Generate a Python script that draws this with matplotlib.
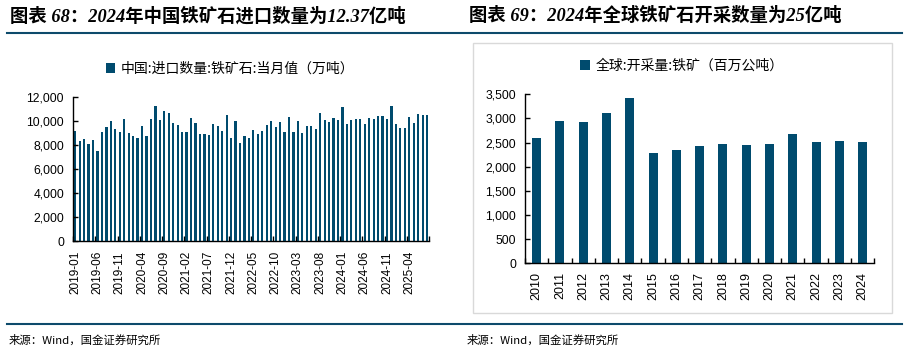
import numpy as np
import pandas as pd
import matplotlib
matplotlib.use("Agg")
import matplotlib.pyplot as plt
from matplotlib.patches import Rectangle
from matplotlib.lines import Line2D
from matplotlib.ticker import FuncFormatter

CJK = ["Noto Sans CJK SC", "DejaVu Sans"]
TITLE_FONT = ["Liberation Serif", "Noto Sans CJK SC"]
NUM = "Liberation Sans"
BAR_COLOR = "#004b6e"
LINE_COLOR = "#0d4a6b"

# 左图: 中国铁矿石进口数量, 当月值 (万吨), 2019-01 ~ 2025-08
months = pd.date_range("2019-01", periods=80, freq="MS").strftime("%Y-%m").tolist()
china_imports = [
    9190, 8360, 8530, 8110, 8440, 7530, 9110, 9530, 10030, 9360,
    9110, 10190, 9030, 8780, 8610, 9610, 8780, 10190, 11280, 10110,
    10860, 10690, 9860, 9690, 9110, 9110, 10280, 9860, 8940, 8940,
    8860, 9780, 9610, 9190, 10530, 8610, 10030, 8190, 8780, 8610,
    9280, 8940, 9190, 9690, 10030, 9530, 9940, 9110, 10360, 9110,
    10030, 9030, 9610, 9610, 9360, 10690, 10110, 9940, 10280, 10110,
    11190, 9780, 10110, 10190, 10190, 9780, 10280, 10190, 10440, 10440,
    10190, 11280, 9780, 9440, 9440, 10360, 9860, 10610, 10530, 10530,
]

# 右图: 全球铁矿开采量 (百万公吨)
years = [str(y) for y in range(2010, 2025)]
world_output = [2590, 2950, 2925, 3110, 3420, 2280, 2345, 2430, 2470, 2450,
                2470, 2675, 2510, 2530, 2510]

fig = plt.figure(figsize=(9.08, 3.54), dpi=100)

# 标题、分隔线、来源
fig.text(0.011, 0.955, "图表 68：2024年中国铁矿石进口数量为12.37亿吨", family=TITLE_FONT,
         fontsize=13.2, fontweight="bold", style="italic", va="center", ha="left")
fig.text(0.516, 0.955, "图表 69：2024年全球铁矿石开采数量为25亿吨", family=TITLE_FONT,
         fontsize=13.2, fontweight="bold", style="italic", va="center", ha="left")
for yy in (1 - 33.3 / 354, 1 - 324 / 354):
    fig.add_artist(Line2D([7 / 908, 902 / 908], [yy, yy], color=LINE_COLOR, lw=1.5))
fig.text(0.010, 0.040, "来源：Wind，国金证券研究所", family=CJK, fontsize=8.2, va="center")
fig.text(0.514, 0.040, "来源：Wind，国金证券研究所", family=CJK, fontsize=8.2, va="center")

# 右图外框
fig.add_artist(Rectangle((473.3 / 908, 1 - 313.3 / 354), 419 / 908, 270 / 354,
                         transform=fig.transFigure, fill=False, ec="#d9d9d9", lw=1))

thousands = FuncFormatter(lambda v, p: f"{v:,.0f}")


def style_axis(ax, n, step, label_size, pad):
    for s in ("top", "right"):
        ax.spines[s].set_visible(False)
    for s in ("left", "bottom"):
        ax.spines[s].set_linewidth(1.0)
    ax.set_xlim(-0.5, n - 0.5)
    ax.set_xticks(np.arange(0, n, step))
    ax.set_xticks(np.arange(-0.5, n, step), minor=True)
    ax.tick_params(axis="x", which="major", length=0, pad=pad, labelsize=label_size,
                   labelrotation=90)
    ax.tick_params(axis="x", which="minor", length=3.5, width=1, direction="in")
    ax.tick_params(axis="y", length=3.8, width=1, direction="in", pad=6.5, labelsize=8.7)
    ax.yaxis.set_major_formatter(thousands)
    for lab in ax.get_yticklabels():
        lab.set_fontfamily(NUM)


# 左图
ax1 = fig.add_axes([0.0804, 0.3184, 0.3924, 0.4068])
x1 = np.arange(len(months))
b1 = ax1.bar(x1, china_imports, width=0.5, color=BAR_COLOR)
ax1.set_ylim(0, 12000)
ax1.set_yticks(np.arange(0, 12001, 2000))
style_axis(ax1, len(months), 5, 8.5, 7)
ax1.set_xticklabels(months[::5], fontfamily=NUM)
fig.legend([b1], ["中国:进口数量:铁矿石:当月值（万吨）"], loc="center",
           bbox_to_anchor=(230 / 908, 1 - 69 / 354), frameon=False,
           prop={"family": CJK, "size": 10}, handlelength=0.7, handleheight=0.7,
           handletextpad=0.4)

# 右图
ax2 = fig.add_axes([0.5782, 0.2562, 0.3847, 0.4774])
x2 = np.arange(len(years))
b2 = ax2.bar(x2, world_output, width=0.39, color=BAR_COLOR)
ax2.set_ylim(0, 3500)
ax2.set_yticks(np.arange(0, 3501, 500))
style_axis(ax2, len(years), 1, 9, 6)
ax2.set_xticklabels(years, fontfamily=NUM)
fig.legend([b2], ["全球:开采量:铁矿（百万公吨）"], loc="center",
           bbox_to_anchor=(682 / 908, 1 - 66 / 354), frameon=False,
           prop={"family": CJK, "size": 10}, handlelength=0.7, handleheight=0.7,
           handletextpad=0.4)

fig.savefig("out.png", dpi=100)
